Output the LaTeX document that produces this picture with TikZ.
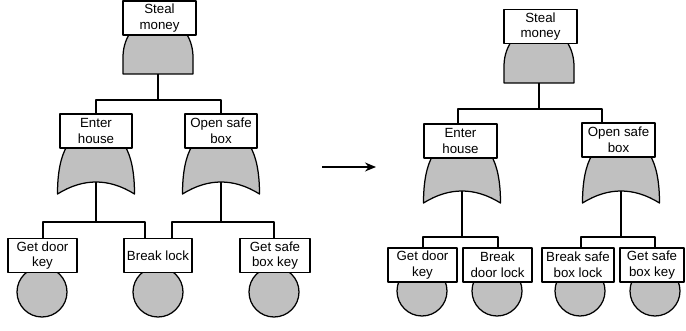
\documentclass[tikz,border=0pt]{standalone}
\usepackage{fontspec}
\setmainfont{Liberation Sans}
\usetikzlibrary{arrows.meta,calc}
\definecolor{gatefill}{RGB}{192,192,192}

% AND gate: flat base at (#2,#3), dome pointing up; #1 names the output point
\newcommand{\AndGate}[3]{%
  \path[gate] (#2-35,#3) -- (#2-35,#3-17)
    arc[start angle=180,end angle=360,x radius=35,y radius=40]
    -- (#2+35,#3) -- cycle;
  \coordinate (#1) at (#2,#3);}

% OR gate: tips at height #3, centred on #2; #1 names the output point
\newcommand{\OrGate}[3]{%
  \path[gate] (#2-38.5,#3) .. controls (#2-38.5,#3-43) and (#2-25.7,#3-64) .. (#2,#3-64)
    .. controls (#2+25.7,#3-64) and (#2+38.5,#3-43) .. (#2+38.5,#3)
    .. controls (#2+12.8,#3-16) and (#2-12.8,#3-16) .. (#2-38.5,#3) -- cycle;
  \coordinate (#1) at (#2,#3-12);}

\begin{document}
\begin{tikzpicture}[x=1pt,y=-1pt,line width=1.25pt,line join=round,
  labelbox/.style={draw,fill=white,inner sep=0pt,minimum height=34pt,align=center,
    font=\fontsize{13.3}{15.8}\selectfont},
  gate/.style={draw,fill=gatefill},
  event/.style={draw,fill=gatefill,circle,minimum size=50pt,inner sep=0pt}]
\useasboundingbox (0,0) rectangle (686,331);

% ---------------- first tree ----------------
\AndGate{andL}{158}{74}
\OrGate{orL1}{96}{194}
\OrGate{orL2}{221}{194}

\node[event] (cL1) at (42,292) {};
\node[event] (cL2) at (158,292) {};
\node[event] (cL3) at (274,292) {};

\coordinate (jL0) at (158,100);
\coordinate (jL1) at (96,222);
\coordinate (jL2) at (221,222);

\node[labelbox,minimum width=73pt] (stealL) at (159.5,18) {Steal\\money};
\node[labelbox,minimum width=72pt] (enterL) at (96,131) {Enter\\house};
\node[labelbox,minimum width=72pt] (openL) at (221,131) {Open safe\\box};
\node[labelbox,minimum width=69pt] (doorkeyL) at (42.5,255.5) {Get door\\key};
\node[labelbox,minimum width=68pt] (breakL) at (158,255.5) {Break lock};
\node[labelbox,minimum width=70pt] (safekeyL) at (275,255.5) {Get safe\\box key};

\draw (andL) -- (jL0);
\draw (enterL.north) |- (jL0) -| (openL.north);
\draw (orL1) -- (jL1);
\draw ([xshift=0.5pt]doorkeyL.north) |- (jL1) -| ([xshift=-13pt]breakL.north);
\draw (orL2) -- (jL2);
\draw ([xshift=14pt]breakL.north) |- (jL2) -| ([xshift=-1pt]safekeyL.north);

% ---------------- arrow ----------------
\coordinate (arrS) at (322,167);
\coordinate (arrE) at (376,167);
\draw[-{Stealth[length=11pt,width=9pt]}] (arrS) -- (arrE);

% ---------------- second tree ----------------
\AndGate{andR}{539}{83}
\OrGate{orR1}{462}{203}
\OrGate{orR2}{621}{203}

\node[event] (cR1) at (422,291) {};
\node[event] (cR2) at (497,291) {};
\node[event] (cR3) at (580,291) {};
\node[event] (cR4) at (655,291) {};

\coordinate (jR0) at (539,109);
\coordinate (jR1) at (462,237);
\coordinate (jR2) at (621,237);

\node[labelbox,minimum width=73pt] (stealR) at (540.5,26.5) {Steal\\money};
\node[labelbox,minimum width=73pt] (enterR) at (460.5,141) {Enter\\house};
\node[labelbox,minimum width=73pt] (openR) at (618.5,140) {Open safe\\box};
\node[labelbox,minimum width=69pt] (doorkeyR) at (422.5,265) {Get door\\key};
\node[labelbox,minimum width=69pt] (breakdoorR) at (497.5,265) {Break\\door lock};
\node[labelbox,minimum width=72pt] (breaksafeR) at (578,265) {Break safe\\box lock};
\node[labelbox,minimum width=64pt] (safekeyR) at (652,265) {Get safe\\box key};

\draw (andR) -- (jR0);
\draw ([xshift=-2.5pt]enterR.north) |- (jR0) -| ([xshift=-16.5pt]openR.north);
\draw (orR1) -- (jR1);
\draw ([xshift=0.5pt]doorkeyR.north) |- (jR1) -| ([xshift=0.5pt]breakdoorR.north);
\draw (orR2) -- (jR2);
\draw ([xshift=3pt]breaksafeR.north) |- (jR2) -| ([xshift=3pt]safekeyR.north);
\end{tikzpicture}
\end{document}
